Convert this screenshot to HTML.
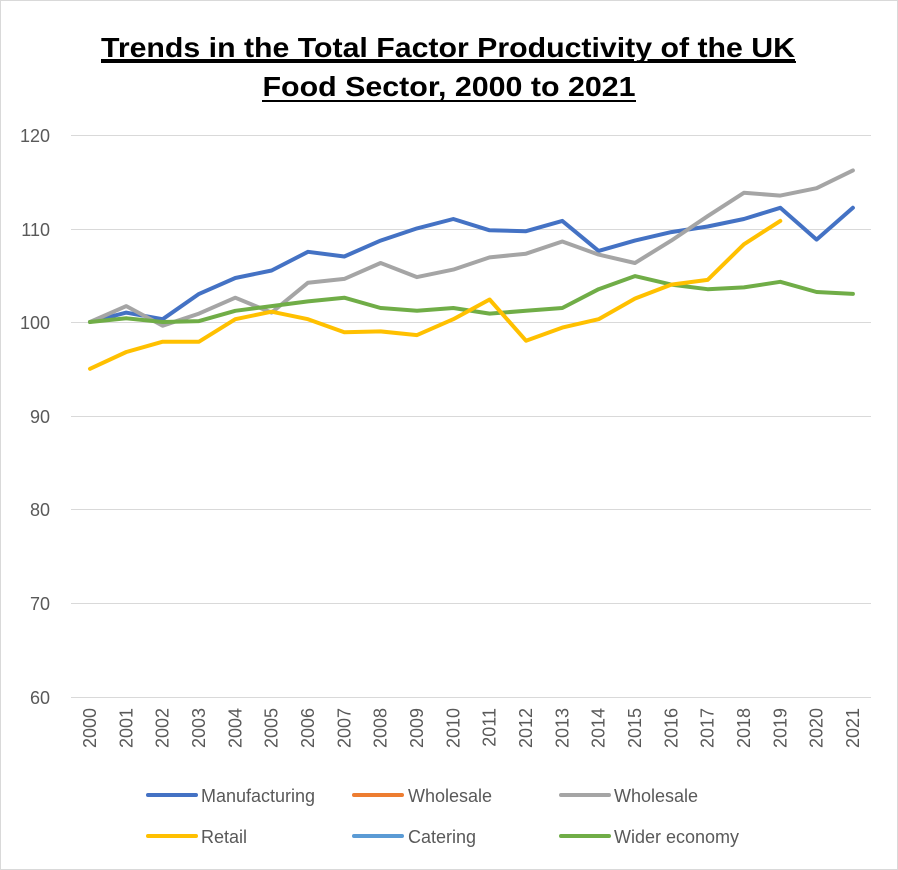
<!DOCTYPE html>
<html><head><meta charset="utf-8"><style>
html,body{margin:0;padding:0;background:#fff;}
svg{display:block;}
text{font-family:"Liberation Sans",sans-serif;}
</style></head><body>
<svg width="898" height="870" xmlns="http://www.w3.org/2000/svg">
<rect x="0.5" y="0.5" width="897" height="869" fill="#fff" stroke="#d9d9d9"/>
<text x="448" y="57" text-anchor="middle" font-size="28" font-weight="bold" text-decoration="underline" textLength="694" lengthAdjust="spacingAndGlyphs">Trends in the Total Factor Productivity of the UK</text>
<line x1="101" y1="62" x2="796" y2="62" stroke="#000" stroke-width="2"/>
<text x="449" y="96" text-anchor="middle" font-size="28" font-weight="bold" textLength="373" lengthAdjust="spacingAndGlyphs">Food Sector, 2000 to 2021</text>
<line x1="262" y1="101" x2="636" y2="101" stroke="#000" stroke-width="2"/>
<g stroke="#d9d9d9" stroke-width="1">
<line x1="71" y1="135.5" x2="871" y2="135.5"/>
<line x1="71" y1="229.5" x2="871" y2="229.5"/>
<line x1="71" y1="322.5" x2="871" y2="322.5"/>
<line x1="71" y1="416.5" x2="871" y2="416.5"/>
<line x1="71" y1="509.5" x2="871" y2="509.5"/>
<line x1="71" y1="603.5" x2="871" y2="603.5"/>
<line x1="71" y1="697.5" x2="871" y2="697.5"/>
</g>
<g font-size="18" fill="#595959" text-anchor="end">
<text x="50" y="142">120</text><text x="50" y="236">110</text><text x="50" y="329">100</text>
<text x="50" y="423">90</text><text x="50" y="516">80</text><text x="50" y="610">70</text><text x="50" y="704">60</text>
</g>
<g id="xl" font-size="18" fill="#595959" text-anchor="end"></g>
<g id="lines" fill="none" stroke-width="4" stroke-linejoin="round" stroke-linecap="round"></g>
<g stroke-width="4" stroke-linecap="round">
<line x1="148" y1="795" x2="196" y2="795" stroke="#4472c4"/>
<line x1="354" y1="795" x2="402" y2="795" stroke="#ed7d31"/>
<line x1="561" y1="795" x2="609" y2="795" stroke="#a5a5a5"/>
<line x1="148" y1="836" x2="196" y2="836" stroke="#ffc000"/>
<line x1="354" y1="836" x2="402" y2="836" stroke="#5b9bd5"/>
<line x1="561" y1="836" x2="609" y2="836" stroke="#70ad47"/>
</g>
<g font-size="18" fill="#595959">
<text x="201" y="802">Manufacturing</text><text x="408" y="802">Wholesale</text><text x="614" y="802">Wholesale</text>
<text x="201" y="843">Retail</text><text x="408" y="843">Catering</text><text x="614" y="843">Wider economy</text>
</g>
</svg>
<script>
var ns="http://www.w3.org/2000/svg";
function X(i){return 90+i*36.33;}
function Y(v){return 322-(v-100)*9.36;}
var xl=document.getElementById("xl");
for(var i=0;i<22;i++){var t=document.createElementNS(ns,"text");var x=X(i)+6;t.setAttribute("transform","translate("+x+",708) rotate(-90)");t.textContent=2000+i;xl.appendChild(t);}
var S=[
["#4472c4",[100,101,100.3,103,104.7,105.5,107.5,107,108.7,110,111,109.8,109.7,110.8,107.6,108.7,109.6,110.2,111,112.2,108.8,112.2]],
["#a5a5a5",[100,101.7,99.6,100.9,102.6,101,104.2,104.6,106.3,104.8,105.6,106.9,107.3,108.6,107.2,106.3,108.7,111.3,113.8,113.5,114.3,116.2]],
["#70ad47",[100,100.4,100,100.1,101.2,101.7,102.2,102.6,101.5,101.2,101.5,100.9,101.2,101.5,103.5,104.9,104,103.5,103.7,104.3,103.2,103]],
["#ffc000",[95,96.8,97.9,97.9,100.3,101.1,100.3,98.9,99,98.6,100.3,102.4,98,99.4,100.3,102.5,104,104.5,108.3,110.8]]
];
var g=document.getElementById("lines");
S.forEach(function(s){var p=document.createElementNS(ns,"polyline");p.setAttribute("stroke",s[0]);p.setAttribute("points",s[1].map(function(v,i){return X(i).toFixed(1)+","+Y(v).toFixed(1);}).join(" "));g.appendChild(p);});
</script>
</body></html>
